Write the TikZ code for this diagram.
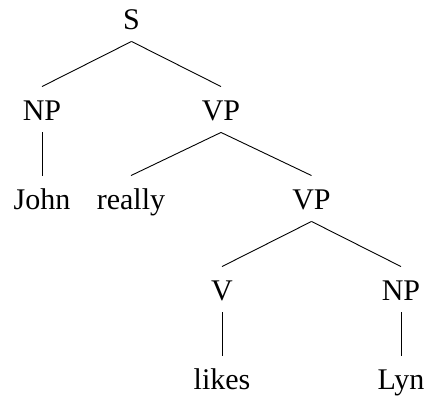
\documentclass[tikz,border=0pt]{standalone}
\usepackage{fontspec}
\setmainfont{Liberation Serif}
\usepackage{tikz}

\begin{document}
\begin{tikzpicture}[x=1pt,y=1pt,line width=0.9pt,
    cat/.style={anchor=base,font=\fontsize{30}{36}\selectfont,
      text height=30pt,text depth=7pt,inner sep=4pt}]
                \useasboundingbox (0,0) rectangle (428,396);
                \node[cat] (s) at (131.5,366) {S};
                \node[cat] (np1) at (42,275) {NP};
                \node[cat] (vp1) at (221,275) {VP};
                \node[cat] (john) at (42,186) {John};
                \node[cat] (really) at (131,186) {really};
                \node[cat] (vp2) at (311.5,186) {VP};
                \node[cat] (v) at (222,95) {V};
                \node[cat] (np2) at (401,95) {NP};
                \node[cat] (likes) at (222,6) {likes};
                \node[cat] (lyn) at (401,6) {Lyn};
                \draw (s.south) -- (np1.north);
                \draw (s.south) -- (vp1.north);
                \draw (np1.south) -- (john.north);
                \draw (vp1.south) -- (really.north);
                \draw (vp1.south) -- (vp2.north);
                \draw (vp2.south) -- (v.north);
                \draw (vp2.south) -- (np2.north);
                \draw (v.south) -- (likes.north);
                \draw (np2.south) -- (lyn.north);
            \end{tikzpicture}
\end{document}
